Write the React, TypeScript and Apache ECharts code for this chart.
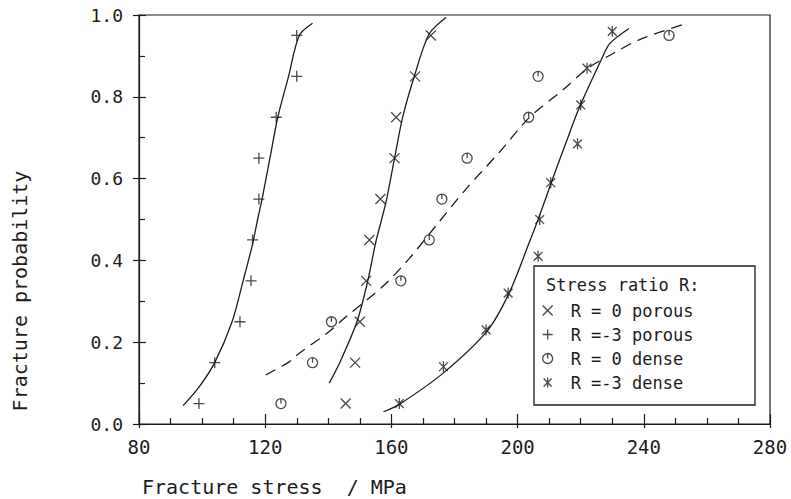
import React, { useEffect, useRef } from "react";
import * as echarts from "echarts";

// ---- Data ----
const probLevels10 = [0.05, 0.15, 0.25, 0.35, 0.45, 0.55, 0.65, 0.75, 0.85, 0.95];

const stressPorousR0 = [145.5, 148.5, 150, 152, 153, 156.5, 161, 161.5, 167.5, 172.5];
const stressPorousRm3 = [99, 104, 112, 115.5, 116, 118, 118, 123.5, 130, 130];
const stressDenseR0 = [125, 135, 141, 163, 172, 176, 184, 203.5, 206.5, 248];
const stressDenseRm3 = [162.5, 176.5, 190, 197, 206.5, 207, 210.5, 219, 220, 222, 230];
const probDenseRm3 = [0.05, 0.14, 0.23, 0.32, 0.41, 0.5, 0.59, 0.685, 0.78, 0.87, 0.96];

// fitted curves
const fitPorousR0X = [140.3, 143.5, 149, 152.4, 155, 156.9, 158.5, 161, 163.6, 167.3, 172, 177.3];
const fitPorousR0Y = [0.1, 0.148, 0.248, 0.346, 0.443, 0.5, 0.55, 0.65, 0.751, 0.851, 0.954, 0.994];

const fitPorousRm3X = [94, 99, 104, 109.5, 113, 116, 117.6, 119, 121.5, 124, 127.4, 130.8, 135];
const fitPorousRm3Y = [0.045, 0.09, 0.15, 0.25, 0.35, 0.44, 0.5, 0.55, 0.65, 0.75, 0.85, 0.95, 0.98];

const fitDenseR0X = [120.2, 127.6, 130.8, 140.3, 145.6, 157.2, 165.7, 175.2, 183.7, 194.3, 203.8, 214.4, 222.3, 230.3, 238.7, 253];
const fitDenseR0Y = [0.12, 0.152, 0.173, 0.226, 0.262, 0.336, 0.405, 0.495, 0.575, 0.665, 0.75, 0.817, 0.87, 0.906, 0.94, 0.978];

const fitDenseRm3X = [157.5, 162.5, 176.5, 190.3, 197.3, 203.6, 206.5, 211, 215.2, 219.7, 226.6, 229.2, 235.3];
const fitDenseRm3Y = [0.03, 0.048, 0.125, 0.227, 0.32, 0.442, 0.5, 0.597, 0.685, 0.776, 0.892, 0.93, 0.967];

const seriesNames = ["R = 0 porous", "R =-3 porous", "R = 0 dense", "R =-3 dense"];

const xTicks = { min: 80, max: 280, interval: 40 };
const yTicks = { min: 0, max: 1, interval: 0.2 };

const INK = "#1c1c1c";
const FONT = "DejaVu Sans Mono";

const SYM_X = "path://M0,0L10,10M10,0L0,10";
const SYM_PLUS = "path://M5,0L5,10M0,5L10,5";
const SYM_CIRC = "path://M0,5A5,5,0,1,0,10,5A5,5,0,1,0,0,5ZM5,0L5,5";
const SYM_STAR = "path://M1,1L9,9M9,1L1,9M5,0L5,10";

const pairs = (xs: number[], ys: number[]) => xs.map((x, i) => [x, ys[i]]);

export default function App() {
  const ref = useRef<HTMLDivElement>(null);

  useEffect(() => {
    if (!ref.current) return;
    const chart = echarts.init(ref.current, undefined, { renderer: "svg" });

    const scatter = (name: string, symbol: string, data: number[][], size: number) => ({
      name,
      type: "scatter",
      data,
      symbol,
      symbolSize: size,
      symbolKeepAspect: true,
      itemStyle: { color: "transparent", borderColor: INK, borderWidth: 1.3 },
      z: 3,
      silent: true,
    });
    const curve = (name: string, data: number[][], dashed: boolean) => ({
      name,
      type: "line",
      data,
      showSymbol: false,
      symbol: "none",
      smooth: 0.3,
      lineStyle: { color: INK, width: 1.3, type: dashed ? [11, 7] : "solid" },
      z: 2,
      silent: true,
    });

    const axisBase = {
      type: "value",
      splitLine: { show: false },
    };

    chart.setOption({
      animation: false,
      backgroundColor: "#ffffff",
      grid: {
        left: 139,
        right: 21,
        top: 15,
        bottom: 75,
        show: true,
        borderColor: INK,
        borderWidth: 1.2,
      },
      xAxis: [
        {
          ...axisBase,
          ...xTicks,
          position: "bottom",
          axisLine: { show: true, lineStyle: { color: INK, width: 1.2 } },
          axisTick: { show: true, inside: true, length: 10, lineStyle: { color: INK, width: 1.2 } },
          minorTick: { show: true, splitNumber: 4, length: 6, lineStyle: { color: INK, width: 1.2 } },
          axisLabel: { margin: 13, fontFamily: FONT, fontSize: 19, color: INK },
        },
        {
          ...axisBase,
          ...xTicks,
          position: "bottom",
          axisLine: { show: false },
          axisTick: { show: true, inside: false, length: 4, lineStyle: { color: INK, width: 1.2 } },
          axisLabel: { show: false },
        },
      ],
      yAxis: [
        {
          ...axisBase,
          ...yTicks,
          position: "left",
          axisLine: { show: true, lineStyle: { color: INK, width: 1.2 } },
          axisTick: { show: true, inside: true, length: 7, lineStyle: { color: INK, width: 1.2 } },
          minorTick: { show: true, splitNumber: 2, length: 6, lineStyle: { color: INK, width: 1.2 } },
          axisLabel: {
            margin: 16,
            fontFamily: FONT,
            fontSize: 18,
            color: INK,
            formatter: (v: number) => v.toFixed(1),
          },
        },
        {
          ...axisBase,
          ...yTicks,
          position: "left",
          axisLine: { show: false },
          axisTick: { show: true, inside: false, length: 6, lineStyle: { color: INK, width: 1.2 } },
          axisLabel: { show: false },
        },
      ],
      legend: {
        data: seriesNames,
        orient: "vertical",
        left: 542,
        top: 302,
        padding: 0,
        itemWidth: 36,
        itemHeight: 10,
        itemGap: 7,
        symbolKeepAspect: true,
        selectedMode: false,
        itemStyle: { color: "transparent", borderColor: INK, borderWidth: 1.3 },
        textStyle: { fontFamily: FONT, fontSize: 17, color: INK, lineHeight: 17 },
        z: 6,
      },
      graphic: [
        {
          type: "rect",
          shape: { x: 534, y: 266, width: 221, height: 139 },
          style: { fill: "#ffffff", stroke: INK, lineWidth: 1.3 },
          z: 4,
        },
        {
          type: "text",
          x: 546,
          y: 285,
          style: {
            text: "Stress ratio R:",
            fontFamily: FONT,
            fontSize: 17,
            fill: INK,
            verticalAlign: "middle",
            align: "left",
          },
          z: 5,
        },
        {
          type: "text",
          x: 142,
          y: 487,
          style: {
            text: "Fracture stress  / MPa",
            fontFamily: FONT,
            fontSize: 20,
            fill: INK,
            verticalAlign: "middle",
            align: "left",
          },
        },
        {
          type: "text",
          x: 20,
          y: 291,
          rotation: Math.PI / 2,
          style: {
            text: "Fracture probability",
            fontFamily: FONT,
            fontSize: 20,
            fill: INK,
            verticalAlign: "middle",
            align: "center",
          },
        },
      ],
      series: [
        curve("fit R = 0 porous", pairs(fitPorousR0X, fitPorousR0Y), false),
        curve("fit R =-3 porous", pairs(fitPorousRm3X, fitPorousRm3Y), false),
        curve("fit R = 0 dense", pairs(fitDenseR0X, fitDenseR0Y), true),
        curve("fit R =-3 dense", pairs(fitDenseRm3X, fitDenseRm3Y), false),
        scatter(seriesNames[0], SYM_X, pairs(stressPorousR0, probLevels10), 10),
        scatter(seriesNames[1], SYM_PLUS, pairs(stressPorousRm3, probLevels10), 11),
        scatter(seriesNames[2], SYM_CIRC, pairs(stressDenseR0, probLevels10), 10),
        scatter(seriesNames[3], SYM_STAR, pairs(stressDenseRm3, probDenseRm3), 11),
      ],
    });

    return () => chart.dispose();
  }, []);

  return (
    <div
      ref={ref}
      style={{ position: "fixed", left: 0, top: 0, width: 791, height: 499, background: "#fff" }}
    />
  );
}
